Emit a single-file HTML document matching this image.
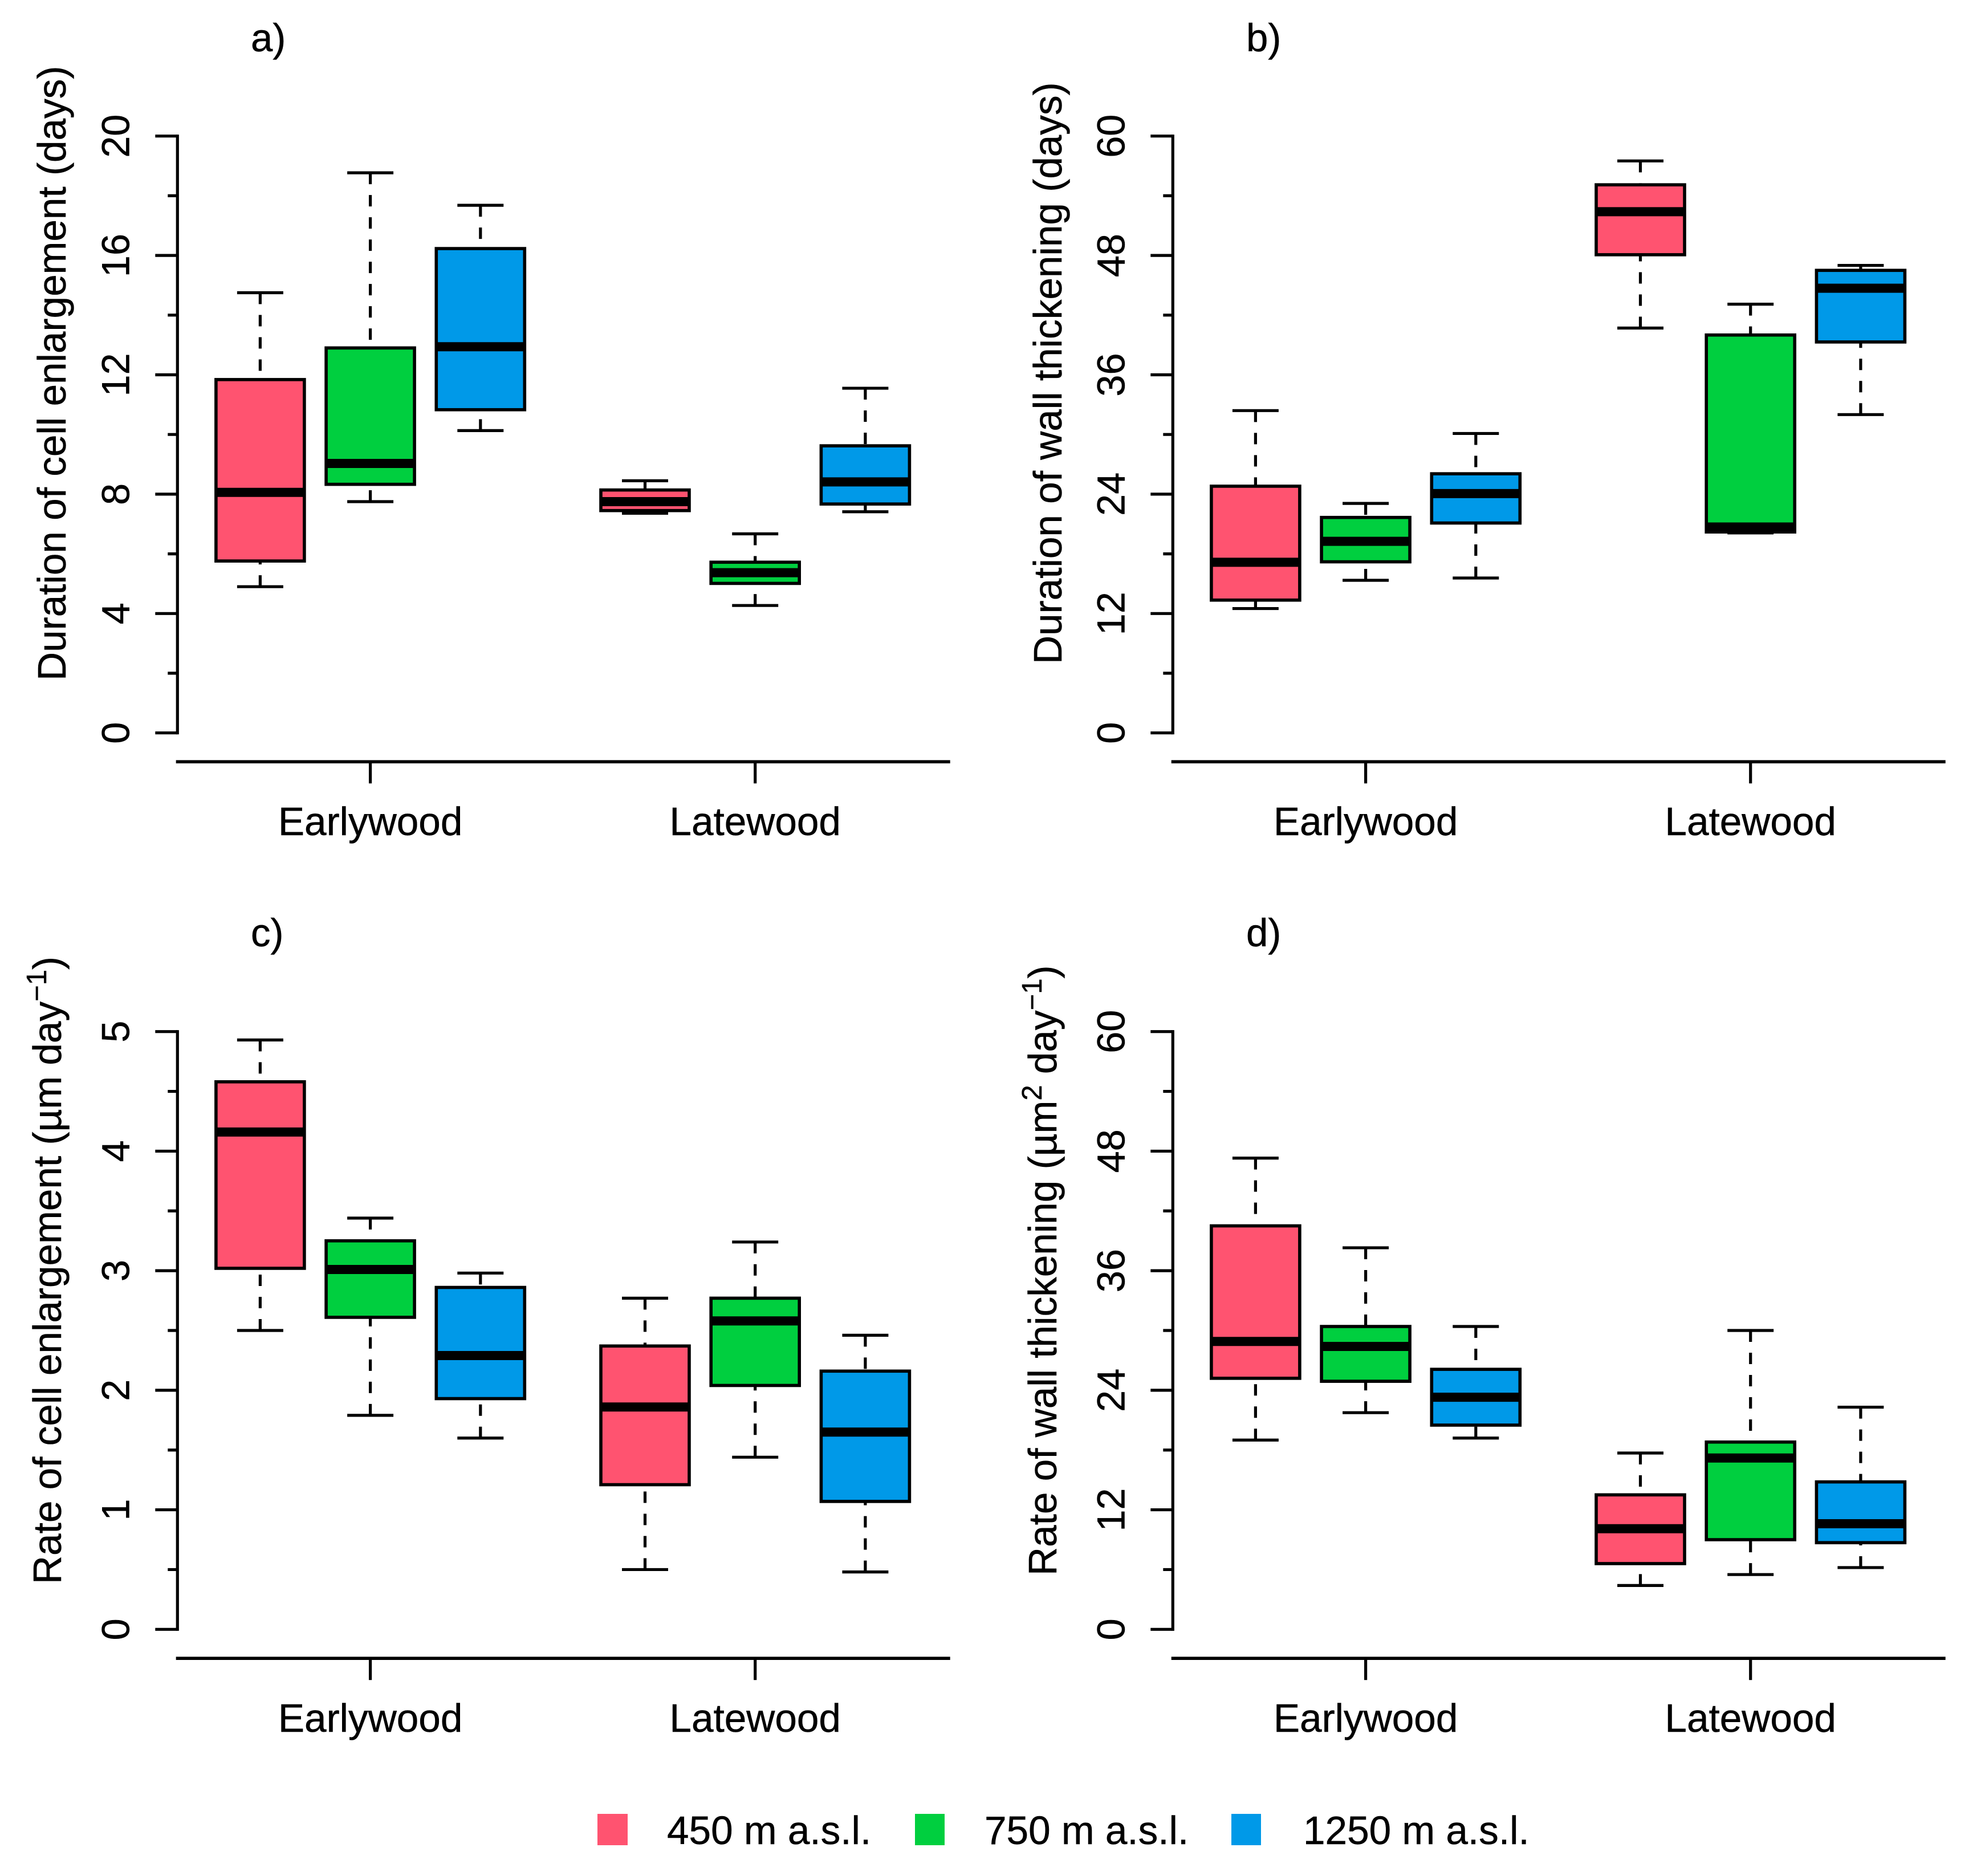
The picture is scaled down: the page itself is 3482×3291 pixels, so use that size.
<!DOCTYPE html>
<html lang="en">
<head>
<meta charset="utf-8">
<title>Xylem cell enlargement and wall thickening by elevation</title>
<style>
  html, body { margin: 0; padding: 0; background: #fff; }
  svg { display: block; }
  text { font-family: "Liberation Sans", sans-serif; fill: #000; stroke: #000; stroke-width: 0.5px; }
</style>
</head>
<body>
<svg id="figure" xmlns="http://www.w3.org/2000/svg" width="3482" height="3291" viewBox="0 0 3482 3291">
  <rect x="0" y="0" width="3482" height="3291" fill="#fff"/>

  <text x="440" y="90" font-size="69">a)</text>
  <text x="2186" y="90" font-size="69">b)</text>
  <text x="440" y="1660" font-size="69">c)</text>
  <text x="2186" y="1660" font-size="69">d)</text>

  <text transform="translate(115,1194) rotate(-90)" font-size="69.3">Duration of cell enlargement (days)</text>
  <text transform="translate(1862,1165) rotate(-90)" font-size="69.3">Duration of wall thickening (days)</text>
  <text transform="translate(107,2779) rotate(-90)" font-size="69.3">Rate of cell enlargement (µm day<tspan font-size="49" dy="-26">−1</tspan><tspan dy="26">)</tspan></text>
  <text transform="translate(1853,2764) rotate(-90)" font-size="69.3">Rate of wall thickening (µm<tspan font-size="49" dy="-26">2</tspan><tspan dy="26"> day</tspan><tspan font-size="49" dy="-26">−1</tspan><tspan dy="26">)</tspan></text>

  <g>
    <rect x="1048" y="3182" width="53" height="55" fill="#FF5370"/>
    <text x="1170" y="3235" font-size="69.3">450 m a.s.l.</text>
    <rect x="1605" y="3182" width="52" height="55" fill="#00CF3F"/>
    <text x="1727" y="3235" font-size="69.3">750 m a.s.l.</text>
    <rect x="2160" y="3182" width="52" height="55" fill="#0099E8"/>
    <text x="2286" y="3235" font-size="69.3">1250 m a.s.l.</text>
  </g>
</svg>

<script>
// Categories and series
const categories = ['Earlywood', 'Latewood'];
const seriesNames = ['450', '750', '1250'];
const seriesColors = ['#FF5370', '#00CF3F', '#0099E8'];

// Order in each array: Earlywood 450/750/1250, Latewood 450/750/1250
const aLow = [4.9, 7.75, 10.13, 7.36, 4.27, 7.41];
const aQ1 = [5.76, 8.33, 10.83, 7.45, 5.01, 7.67];
const aMedian = [8.06, 9.03, 12.94, 7.75, 5.37, 8.41];
const aQ3 = [11.84, 12.9, 16.23, 8.14, 5.72, 9.62];
const aHigh = [14.75, 18.77, 17.68, 8.45, 6.67, 11.55];
const aTicks = [0, 4, 8, 12, 16, 20];
const aMinorTicks = [2, 6, 10, 14, 18];

const bLow = [12.5, 15.34, 15.57, 40.7, 20.1, 32];
const bQ1 = [13.35, 17.2, 21.1, 48.07, 20.2, 39.3];
const bMedian = [17.15, 19.26, 24.06, 52.4, 20.7, 44.7];
const bQ3 = [24.8, 21.66, 26.05, 55.1, 40, 46.5];
const bHigh = [32.4, 23.07, 30.1, 57.5, 43.1, 47];
const bTicks = [0, 12, 24, 36, 48, 60];
const bMinorTicks = [6, 18, 30, 42, 54];

const cLow = [2.5, 1.79, 1.6, 0.5, 1.44, 0.48];
const cQ1 = [3.02, 2.61, 1.93, 1.21, 2.04, 1.07];
const cMedian = [4.16, 3.01, 2.29, 1.86, 2.58, 1.65];
const cQ3 = [4.58, 3.25, 2.86, 2.37, 2.77, 2.16];
const cHigh = [4.93, 3.44, 2.98, 2.77, 3.24, 2.46];
const cTicks = [0, 1, 2, 3, 4, 5];
const cMinorTicks = [0.5, 1.5, 2.5, 3.5, 4.5];

const dLow = [19, 21.75, 19.2, 4.4, 5.5, 6.2];
const dQ1 = [25.2, 24.9, 20.5, 6.6, 9, 8.7];
const dMedian = [28.9, 28.4, 23.3, 10.1, 17.2, 10.6];
const dQ3 = [40.5, 30.4, 26.1, 13.5, 18.8, 14.8];
const dHigh = [47.3, 38.3, 30.4, 17.7, 30, 22.3];
const dTicks = [0, 12, 24, 36, 48, 60];
const dMinorTicks = [6, 18, 30, 42, 54];

const NS = 'http://www.w3.org/2000/svg';
const svg = document.getElementById('figure');

function make(tag, attrs, parent) {
  const node = document.createElementNS(NS, tag);
  for (const key in attrs) node.setAttribute(key, attrs[key]);
  parent.appendChild(node);
  return node;
}

function drawPanel(id, xOffset, yTop, yBottom, xAxisY, low, q1, median, q3, high, ticks, minorTicks) {
  const yMax = ticks[ticks.length - 1];
  const axisX = 311.3 + xOffset;
  const yScale = v => yBottom - (v / yMax) * (yBottom - yTop);
  const groupX = c => 649.6 + xOffset + 675.1 * c;
  const boxX = (c, s) => groupX(c) + (s - 1) * 193.2;

  const panel = make('g', {}, svg);
  
  

  const yAxis = make('line', { x1: axisX, x2: axisX, y1: yScale(0) + 2.6, y2: yScale(yMax) - 2.6, stroke: '#000', 'stroke-width': 5.2 }, panel);
  
  

  ticks.forEach(t => {
    const tick = make('line', { x1: axisX - 39, x2: axisX, y1: yScale(t), y2: yScale(t), stroke: '#000', 'stroke-width': 5.2 }, panel);
    
    
    const label = make('text', { transform: 'translate(' + (axisX - 85) + ',' + yScale(t) + ') rotate(-90)', 'text-anchor': 'middle', 'font-size': 68.5 }, panel);
    label.textContent = String(t);
    
    
  });

  minorTicks.forEach(t => {
    const tick = make('line', { x1: axisX - 17, x2: axisX, y1: yScale(t), y2: yScale(t), stroke: '#000', 'stroke-width': 5.2 }, panel);
    
    
  });

  const xAxis = make('line', { x1: 308.7 + xOffset, x2: 1666.7 + xOffset, y1: xAxisY, y2: xAxisY, stroke: '#000', 'stroke-width': 5.6 }, panel);
  
  

  categories.forEach((cat, c) => {
    const tick = make('line', { x1: groupX(c), x2: groupX(c), y1: xAxisY, y2: xAxisY + 38, stroke: '#000', 'stroke-width': 5.2 }, panel);
    
    
    const label = make('text', { x: groupX(c), y: xAxisY + 128.7, 'text-anchor': 'middle', 'font-size': 69.3 }, panel);
    label.textContent = cat;
    
    

    seriesNames.forEach((name, s) => {
      const i = c * seriesNames.length + s;
      const x = boxX(c, s);
      const base = 'panel-' + id + '-' + cat.toLowerCase() + '-' + name;
      const group = make('g', {}, panel);
      
      

      const upper = make('line', { x1: x, x2: x, y1: yScale(high[i]), y2: yScale(q3[i]), stroke: '#000', 'stroke-width': 5.2, 'stroke-dasharray': '20 19' }, group);
      
      
      const lower = make('line', { x1: x, x2: x, y1: yScale(low[i]), y2: yScale(q1[i]), stroke: '#000', 'stroke-width': 5.2, 'stroke-dasharray': '20 19' }, group);
      
      

      const capHigh = make('line', { x1: x - 40.5, x2: x + 40.5, y1: yScale(high[i]), y2: yScale(high[i]), stroke: '#000', 'stroke-width': 5.2 }, group);
      
      
      const capLow = make('line', { x1: x - 40.5, x2: x + 40.5, y1: yScale(low[i]), y2: yScale(low[i]), stroke: '#000', 'stroke-width': 5.2 }, group);
      
      

      const box = make('rect', { x: x - 77.5, width: 155, y: yScale(q3[i]), height: yScale(q1[i]) - yScale(q3[i]), fill: seriesColors[s], stroke: '#000', 'stroke-width': 5.6 }, group);
      
      

      const med = make('line', { x1: x - 77.5, x2: x + 77.5, y1: yScale(median[i]), y2: yScale(median[i]), stroke: '#000', 'stroke-width': 16 }, group);
      
      
    });
  });
}

drawPanel('a', 0, 238.7, 1285.7, 1336.3, aLow, aQ1, aMedian, aQ3, aHigh, aTicks, aMinorTicks);
drawPanel('b', 1746, 238.7, 1285.7, 1336.3, bLow, bQ1, bMedian, bQ3, bHigh, bTicks, bMinorTicks);
drawPanel('c', 0, 1809.7, 2858.3, 2909.2, cLow, cQ1, cMedian, cQ3, cHigh, cTicks, cMinorTicks);
drawPanel('d', 1746, 1809.7, 2858.3, 2909.2, dLow, dQ1, dMedian, dQ3, dHigh, dTicks, dMinorTicks);
</script>
</body>
</html>
